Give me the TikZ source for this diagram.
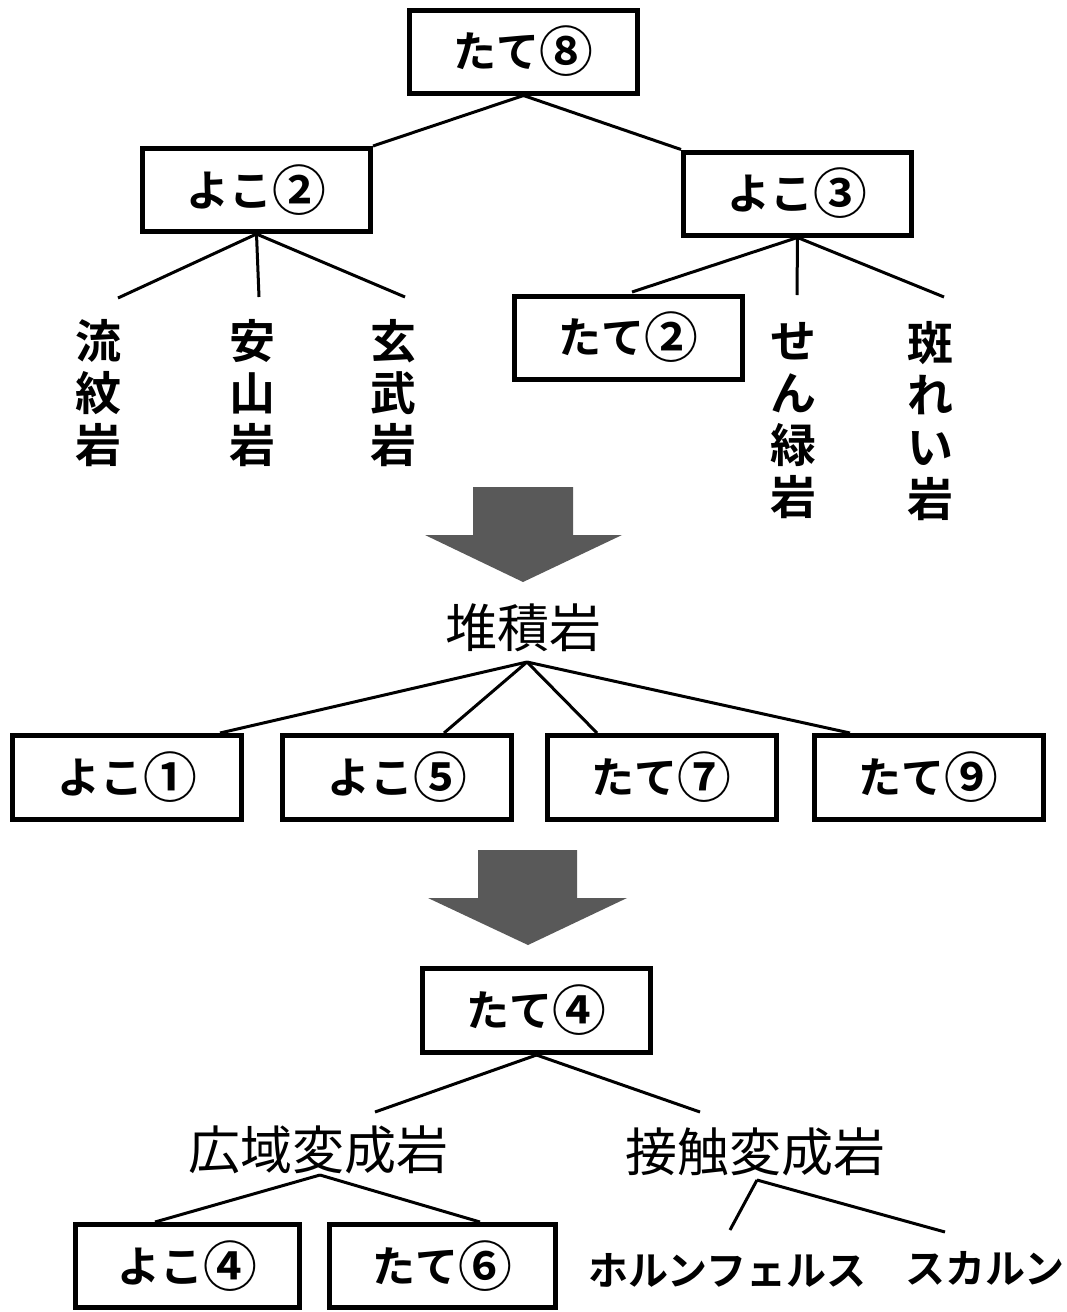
\documentclass[tikz,border=0pt]{standalone}
\usepackage{fontspec}
\newfontfamily\jp{Noto Sans CJK JP}
\newfontfamily\jpm{Noto Sans CJK JP Bold}
\newcommand{\cnum}[1]{\raisebox{-4pt}{\scalebox{1.25}{#1}}}
\begin{document}
\begin{tikzpicture}[x=1pt,y=-1pt,
  box/.style={draw=black,line width=5pt,fill=white,minimum width=228pt,minimum height=83pt,inner sep=0pt,
     font=\jpm\fontsize{43pt}{48pt}\selectfont},
  vlabel/.style={align=center,inner sep=0pt,font=\jpm\fontsize{46pt}{52pt}\selectfont},
  plabel/.style={inner sep=0pt,font=\jp\fontsize{52pt}{56pt}\selectfont},
  klabel/.style={inner sep=0pt,font=\jpm\fontsize{40pt}{44pt}\selectfont},
  conn/.style={draw=black,line width=3pt},
  bigarrow/.style={fill=black!65,draw=none}]
\useasboundingbox (0,0) rectangle (1066,1312);
\fill[white] (0,0) rectangle (1066,1312);

% top tree
\node[box] (t8) at (523.5,51.5) {たて\cnum{⑧}};
\node[box] (y2) at (256.5,190) {よこ\cnum{②}};
\node[box] (y3) at (797.5,193.5) {よこ\cnum{③}};
\node[box] (t2) at (628,337.5) {たて\cnum{②}};
\node[vlabel] (ryu) at (98,393) {流\\紋\\岩};
\node[vlabel] (an) at (252,393) {安\\山\\岩};
\node[vlabel] (gen) at (393,393) {玄\\武\\岩};
\node[vlabel] (sen) at (793,421) {せ\\ん\\緑\\岩};
\node[vlabel] (han) at (930,421) {斑\\れ\\い\\岩};

\coordinate (c1) at (118,298);
\coordinate (c2) at (259,297);
\coordinate (c3) at (405,297);
\coordinate (c4) at (797,295);
\coordinate (c5) at (944,297);
\coordinate (c6) at (632,292);

\draw[conn] (t8.south) -- (y2.north east);
\draw[conn] (t8.south) -- (y3.north west);
\draw[conn] (y2.south) -- (c1);
\draw[conn] (y2.south) -- (c2);
\draw[conn] (y2.south) -- (c3);
\draw[conn] (y3.south) -- (c6);
\draw[conn] (y3.south) -- (c4);
\draw[conn] (y3.south) -- (c5);

% arrow 1
\fill[bigarrow] (473,487) -- (573,487) -- (573,535) -- (622,535) -- (523,582) -- (425,535) -- (473,535) -- cycle;

% middle tree
\node[plabel] (tai) at (523,628) {堆積岩};
\node[box,minimum width=229pt,minimum height=84pt] (y1) at (127,777.5) {よこ\cnum{①}};
\node[box,minimum width=229pt,minimum height=84pt] (y5) at (397,777.5) {よこ\cnum{⑤}};
\node[box,minimum width=229pt,minimum height=84pt] (t7) at (661.5,777.5) {たて\cnum{⑦}};
\node[box,minimum width=229pt,minimum height=84pt] (t9) at (928.5,777.5) {たて\cnum{⑨}};
\coordinate (apex) at (527,662);
\coordinate (d1) at (220,733);
\coordinate (d2) at (444,733);
\coordinate (d3) at (597,733);
\coordinate (d4) at (850,733);
\draw[conn] (apex) -- (d1);
\draw[conn] (apex) -- (d2);
\draw[conn] (apex) -- (d3);
\draw[conn] (apex) -- (d4);

% arrow 2
\fill[bigarrow] (478,850) -- (577,850) -- (577,898) -- (627,898) -- (528,945) -- (428,898) -- (478,898) -- cycle;

% bottom tree
\node[box,minimum height=84pt] (t4) at (536.5,1010.5) {たて\cnum{④}};
\node[plabel] (kou) at (318,1150) {広域変成岩};
\node[plabel] (ses) at (755,1152) {接触変成岩};
\node[box,minimum width=224pt,minimum height=83pt] (y4) at (187.5,1266) {よこ\cnum{④}};
\node[box,minimum width=226pt,minimum height=83pt] (t6) at (442.5,1266) {たて\cnum{⑥}};
\node[klabel] (horn) at (727,1270) {ホルンフェルス};
\node[klabel] (ska) at (985,1268) {スカルン};

\coordinate (e1) at (375,1112);
\coordinate (e2) at (700,1112);
\coordinate (f0) at (320,1175);
\coordinate (f1) at (155,1222);
\coordinate (f2) at (480,1222);
\coordinate (g0) at (757,1180);
\coordinate (g1) at (730,1230);
\coordinate (g2) at (945,1232);
\draw[conn] (t4.south) -- (e1);
\draw[conn] (t4.south) -- (e2);
\draw[conn] (f0) -- (f1);
\draw[conn] (f0) -- (f2);
\draw[conn] (g0) -- (g1);
\draw[conn] (g0) -- (g2);
\end{tikzpicture}
\end{document}
